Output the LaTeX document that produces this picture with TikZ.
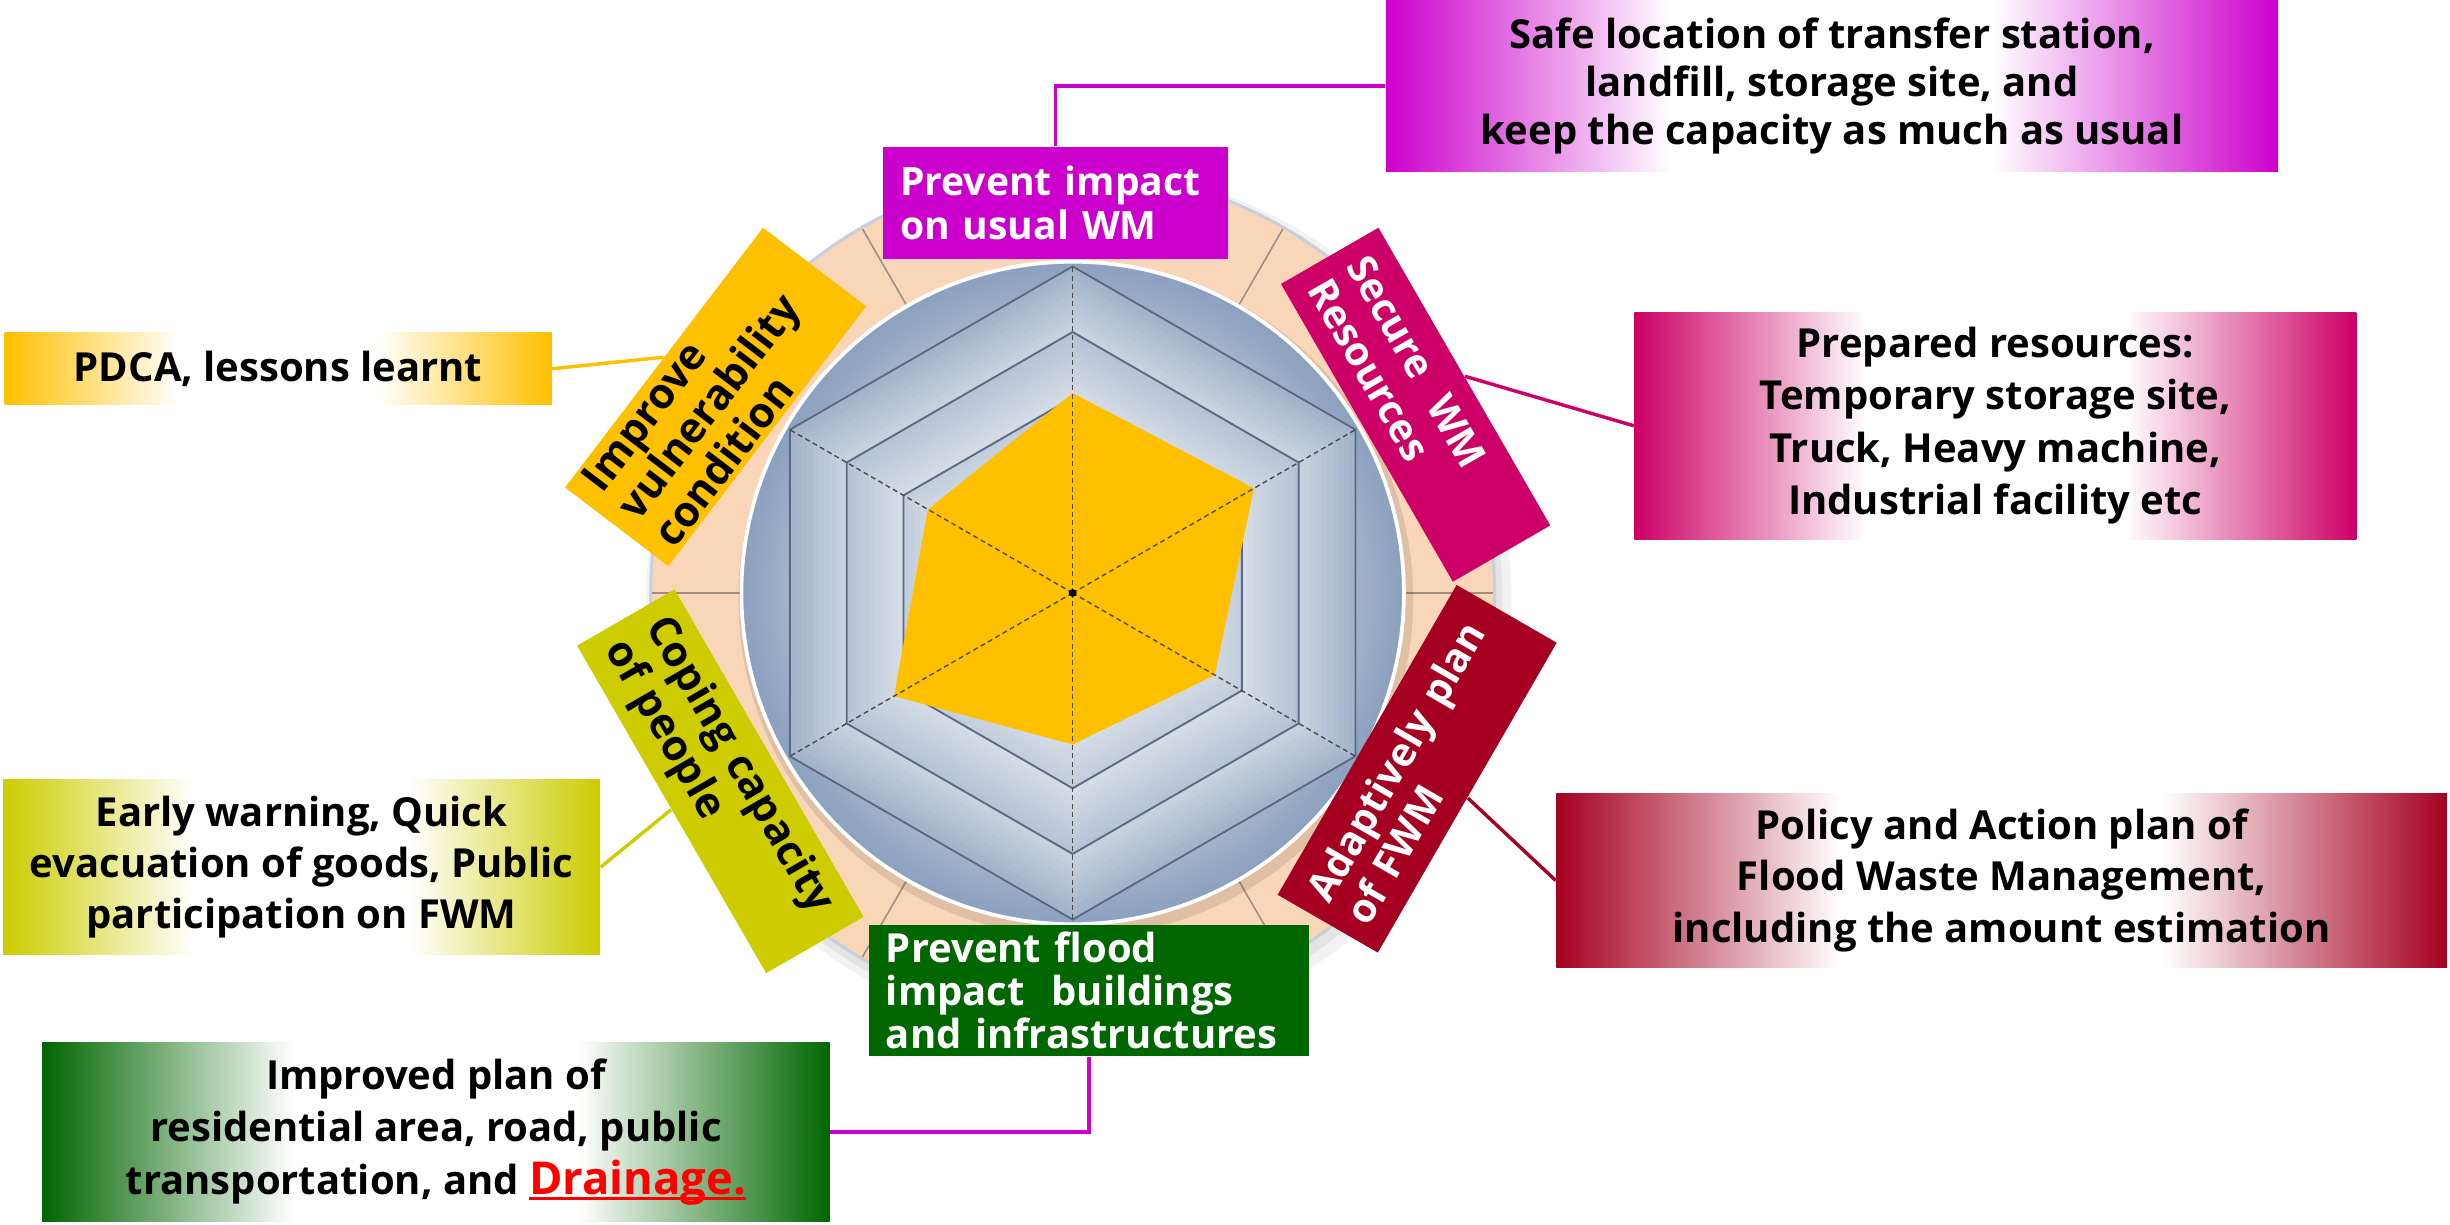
\documentclass[tikz,border=0pt]{standalone}
\usepackage{fontspec}
\setmainfont{Open Sans}
\usetikzlibrary{calc}
\definecolor{cPurple}{HTML}{CC00CC}
\definecolor{cMagenta}{HTML}{CC0066}
\definecolor{cCrimson}{HTML}{A50021}
\definecolor{cGreen}{HTML}{006600}
\definecolor{cOlive}{HTML}{CCCC00}
\definecolor{cOrange}{HTML}{FFC000}
\definecolor{cPeach}{HTML}{FAD6B8}
\definecolor{rimc}{HTML}{C8D0DB}
\definecolor{ringline}{HTML}{A08E80}
\definecolor{hexline}{HTML}{5B6A82}
\definecolor{bA}{HTML}{E2E8F0}
\definecolor{bB}{HTML}{D3DBE6}
\definecolor{bC}{HTML}{B5C3D5}
\definecolor{bD}{HTML}{93A7C3}
\definecolor{bE}{HTML}{8CA1BE}
\definecolor{hexAa}{HTML}{A2B3CA}
\definecolor{hexBa}{HTML}{C8D2DF}
\definecolor{hexAb}{HTML}{B6C4D6}
\definecolor{hexBb}{HTML}{D4DCE6}
\definecolor{hexAc}{HTML}{C4CFDD}
\definecolor{hexBc}{HTML}{DCE2EA}
\definecolor{hexAd}{HTML}{D6DDE7}
\definecolor{hexBd}{HTML}{E4E9F0}
\newcommand\mkhshade[1]{\pgfdeclarehorizontalshading{sh#1}{100bp}{color(0bp)=(#1); color(25bp)=(#1); color(41bp)=(white); color(59bp)=(white); color(75bp)=(#1); color(100bp)=(#1)}}
\mkhshade{cPurple}
\mkhshade{cMagenta}
\mkhshade{cCrimson}
\mkhshade{cGreen}
\mkhshade{cOlive}
\mkhshade{cOrange}
\pgfdeclareradialshading{bluedisk}{\pgfpoint{0bp}{0bp}}{color(0bp)=(bA); color(12bp)=(bB); color(19bp)=(bC); color(23.5bp)=(bD); color(25bp)=(bE); color(50bp)=(bE)}
\newcommand\redul[1]{\setbox0\hbox{#1}\rlap{\rule[-1.9pt]{\wd0}{1.1pt}}\box0}
\begin{document}
\begin{tikzpicture}[x=0.5pt,y=-0.5pt,
  lab/.style={rectangle, inner sep=0pt, inner xsep=5.5pt, align=left, font=\bfseries\fontsize{12.8}{14}\selectfont},
  desc/.style={rectangle, inner sep=0pt, align=center, text=black, shade, font=\bfseries\fontsize{12.8}{16.5}\selectfont},
  conn/.style={line width=1.1pt},
  spokeline/.style={draw=black!70, line width=0.45pt, dash pattern=on 1.6pt off 1.1pt},
  hexstroke/.style={draw=hexline, line width=0.6pt},
]
\useasboundingbox (0,0) rectangle (1568,783.4);
% ---------------- radar ----------------
\begin{scope}[shift={(686.5,379.5)}, y=0.5pt]
  \fill[black,opacity=0.05] (4,-6) circle (277);
  \fill[black,opacity=0.06] (2,-4) circle (273);
  \filldraw[fill=cPeach, draw=rimc, line width=1pt] (0,0) circle (270);
  \foreach \a in {0,60,120,180,240,300} \draw[draw=ringline, line width=0.5pt] (\a:212) -- (\a:269);
  \fill[black,opacity=0.10] (2,-4) circle (216);
  \shade[shading=bluedisk] (0,0) circle (212);
  \foreach \ro/\ri/\cA/\cB in {209/167/hexAa/hexBa, 167/125/hexAb/hexBb, 125/83/hexAc/hexBc, 83/0/hexAd/hexBd} {
    \foreach \k in {0,...,9} {
      \pgfmathsetmacro\rr{\ro-(\ro-\ri)*\k/10}
      \pgfmathsetmacro\pc{100-\k*100/9}
      \fill[\cA!\pc!\cB] (90:\rr) -- (30:\rr) -- (-30:\rr) -- (-90:\rr) -- (210:\rr) -- (150:\rr) -- cycle;
    }
  }
  \draw[white, line width=1.2pt] (0,0) circle (212);
  \foreach \r in {209,167,125,83,42}
    \draw[hexstroke] (90:\r) -- (30:\r) -- (-30:\r) -- (-90:\r) -- (210:\r) -- (150:\r) -- cycle;
  \fill[cOrange] (90:128) -- (30:134) -- (-30:105) -- (-90:97) -- (210:132) -- (150:107) -- cycle;
  \foreach \a in {90,30,-30,-90,210,150} \draw[spokeline] (0,0) -- (\a:209);
  \fill[black] (0,0) circle (2.5);
\end{scope}
% ---------------- labels ----------------
\node[lab, fill=cPurple, text=white, text width=99.5pt, minimum height=36pt, font=\bfseries\fontsize{12.5}{14}\selectfont] (pim) at (675.5,130) {Prevent impact\\on usual WM};
\node[lab, fill=cMagenta, text=white, text width=99pt, minimum height=36pt, rotate=-60, font=\bfseries\fontsize{12.8}{14.5}\selectfont] (sec) at (906,259) {Secure\ \ WM\\Resources};
\node[lab, fill=cCrimson, text=white, text width=103.5pt, minimum height=37pt, rotate=60, font=\bfseries\fontsize{12.8}{14.5}\selectfont] (adp) at (907,492) {Adaptively plan\\of FWM};
\node[lab, fill=cGreen, text=white, text width=130pt, minimum height=42pt, font=\bfseries\fontsize{12.8}{13.8}\selectfont] (pfl) at (697,634) {Prevent flood\\impact\ \ buildings\\and infrastructures};
\node[lab, fill=cOlive, text=black, text width=110pt, minimum height=36pt, rotate=-60, font=\bfseries\fontsize{13.5}{15}\selectfont] (cop) at (461,500) {Coping capacity\\of people};
\node[lab, fill=cOrange, text=black, text width=93.5pt, minimum height=41.5pt, rotate=52.7, font=\bfseries\fontsize{13.5}{12.6}\selectfont] (imp) at (458,254) {Improve\\vulnerability\\condition};
% ---------------- descriptions ----------------
\node[desc, shading=shcPurple, minimum width=285.5pt, minimum height=55pt, font=\bfseries\fontsize{12.8}{15.5}\selectfont] (safe) at (1172.5,55) {Safe location of transfer station,\\landfill, storage site, and\\keep the capacity as much as usual};
\node[desc, shading=shcMagenta, minimum width=231pt, minimum height=72.5pt, font=\bfseries\fontsize{12.8}{16.8}\selectfont] (prep) at (1277,272.5) {Prepared resources:\\Temporary storage site,\\Truck, Heavy machine,\\Industrial facility etc};
\node[desc, shading=shcCrimson, minimum width=285pt, minimum height=55.5pt, font=\bfseries\fontsize{12.8}{16.5}\selectfont] (pol) at (1281,563.5) {Policy and Action plan of\\Flood Waste Management,\\including the amount estimation};
\node[desc, shading=shcOrange, minimum width=175pt, minimum height=23pt] (pdca) at (178,236) {PDCA, lessons learnt};
\node[desc, shading=shcOlive, minimum width=191pt, minimum height=56pt, font=\bfseries\fontsize{12.8}{16.2}\selectfont] (early) at (193,555) {Early warning, Quick\\evacuation of goods, Public\\participation on FWM};
\node[desc, shading=shcGreen, minimum width=252pt, minimum height=57.5pt, font=\bfseries\fontsize{12.8}{16.7}\selectfont] (impl) at (279,724.5) {Improved plan of\\residential area, road, public\\transportation, and {\color{red}\fontsize{14.5}{16.7}\selectfont\redul{Drainage.}}};
% ---------------- connectors ----------------
\draw[conn, cPurple] (pim.north) |- (safe.west);
\draw[conn, cMagenta] (sec.north) -- (prep.west);
\draw[conn, cCrimson] (adp.south) -- (pol.west);
\draw[conn, cOrange] (imp.north) -- (pdca.east);
\draw[conn, cOlive] (cop.south) -- (early.east);
\draw[conn, cPurple] (pfl.south) |- (impl.east);
\end{tikzpicture}
\end{document}
